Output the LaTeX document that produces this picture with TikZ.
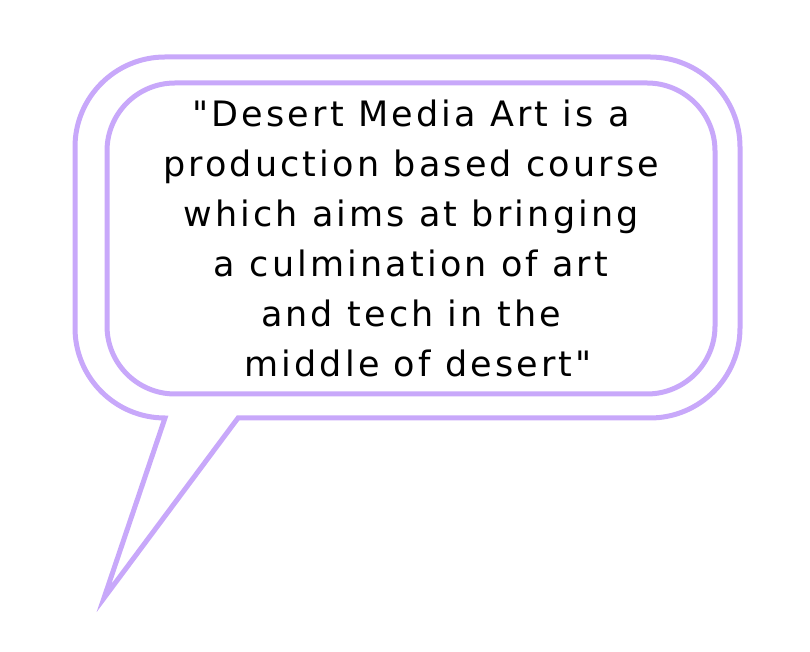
\documentclass[tikz,border=0pt]{standalone}
\usepackage{fontspec}
\usepackage{xcolor}
\usepackage{tikz}
\setmainfont{DejaVu Sans}[LetterSpace=9,Ligatures=TeXOff]
\definecolor{lilac}{RGB}{200,168,250}
\tikzstyle{bubble}=[draw=lilac,line width=5pt]
\tikzstyle{inner}+=[bubble,rounded corners=68pt,minimum width=608pt,minimum height=311pt,align=center,inner sep=0pt]
\tikzstyle{quote}+=[font=\fontsize{35}{50}\selectfont]

\begin{document}
\begin{tikzpicture}[x=1pt,y=1pt]
    \useasboundingbox (0,0) rectangle (810,652);
    \coordinate (tailL) at (165,234);
    \coordinate (tailR) at (238,234);
    \coordinate (tip) at (104,54);
    \draw[bubble] (tailR) -- (650,234) arc[start angle=-90,end angle=0,radius=90]
      -- (740,505) arc[start angle=0,end angle=90,radius=90]
      -- (165,595) arc[start angle=90,end angle=180,radius=90]
      -- (75,324) arc[start angle=180,end angle=270,radius=90]
      -- (tip) -- cycle;
    \node[inner,quote] (box) at (411,413.5) {"Desert Media Art is a\\production based course\\which aims at bringing\\a culmination of art\\and tech in the\\~middle of desert"};
  \end{tikzpicture}
\end{document}
